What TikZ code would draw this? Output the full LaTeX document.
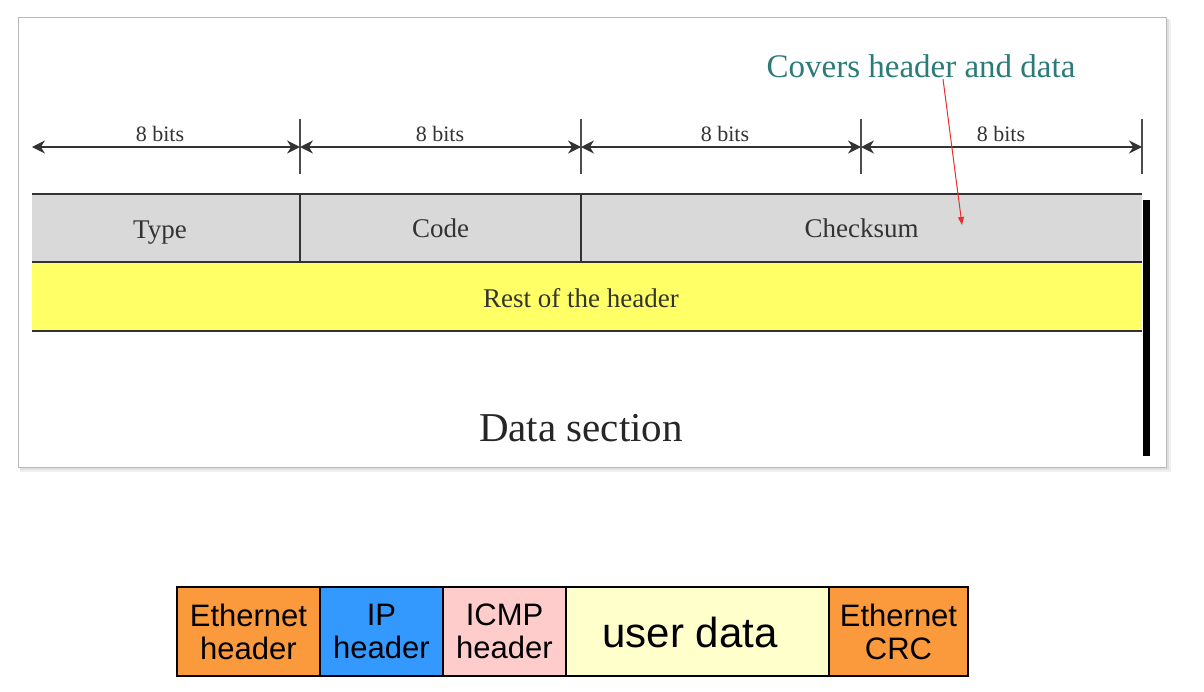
\documentclass[tikz,border=0pt]{standalone}
\usepackage{fontspec}
\setmainfont{Liberation Serif}
\newfontfamily\arialf{Liberation Sans}
\usetikzlibrary{arrows.meta}
\definecolor{hdrgray}{HTML}{D9D9D9}
\definecolor{hdryellow}{HTML}{FFFF66}
\definecolor{tealtxt}{HTML}{2B7B78}
\definecolor{ethorange}{HTML}{FB9A3C}
\definecolor{ipblue}{HTML}{3399FF}
\definecolor{icmppink}{HTML}{FFCCCC}
\definecolor{udyellow}{HTML}{FFFFCC}
\definecolor{redarrow}{HTML}{E8302A}
\definecolor{txtgray}{HTML}{333333}
\tikzset{
  field/.style={inner sep=0pt, text=txtgray, font=\fontsize{27}{30}\selectfont},
  rule/.style={black!80, line width=1.5pt},
  dimline/.style={black!80, line width=1.4pt, {Stealth[length=13pt,width=13pt]}-{Stealth[length=13pt,width=13pt]}},
  tickline/.style={black!70, line width=1.2pt},
  bitlabel/.style={text=txtgray, font=\fontsize{22}{24}\selectfont, inner sep=0pt},
  pktbox/.style={draw=black, line width=2.5pt, inner sep=0pt, minimum height=89pt,
    align=center, font=\arialf\fontsize{31}{33}\selectfont},
}
\begin{document}
\begin{tikzpicture}[x=1pt,y=-1pt]
\useasboundingbox (0,0) rectangle (1204,691);
\fill[white] (0,0) rectangle (1204,691);
% frame with shadow
\fill[black!6] (20,20) rectangle (1171,472);
\fill[black!12] (20,19) rectangle (1169,470);
\draw[black!28, line width=1pt, fill=white] (18,17) rectangle (1166,467);

% dimension ticks
\foreach \n/\x in {a/300,b/581,c/861,d/1142}{
  \coordinate (\n top) at (\x,119);
  \coordinate (\n bot) at (\x,174);
  \draw[tickline] (\n top) -- (\n bot);
}
\coordinate (p0) at (32,147);
\coordinate (p1) at (300,147);
\coordinate (p2) at (581,147);
\coordinate (p3) at (861,147);
\coordinate (p4) at (1142,147);
\draw[dimline] (p0) -- (p1);
\draw[dimline] (p1) -- (p2);
\draw[dimline] (p2) -- (p3);
\draw[dimline] (p3) -- (p4);
\node[bitlabel] (b1) at (160,134) {8 bits};
\node[bitlabel] (b2) at (440,134) {8 bits};
\node[bitlabel] (b3) at (725,134) {8 bits};
\node[bitlabel] (b4) at (1001,134) {8 bits};

% header fields
\node[field, fill=hdrgray, minimum width=268pt, minimum height=68pt] (type) at (166,228) {};
\node[field, fill=hdrgray, minimum width=281pt, minimum height=68pt] (code) at (440.5,228) {Code};
\node[field, fill=hdrgray, minimum width=561pt, minimum height=68pt] (cks) at (861.5,228) {Checksum};
\node[field, fill=hdryellow, minimum width=1110pt, minimum height=69pt] (rest) at (587,296.5) {};
\draw[rule] (type.north west) -- (cks.north east);
\draw[rule] (type.south west) -- (cks.south east);
\draw[rule] (rest.south west) -- (rest.south east);
\draw[rule] (type.north east) -- (type.south east);
\draw[rule] (code.north east) -- (code.south east);
\node[field, anchor=base] (typet) at (160,238) {Type};
\node[field] (restt) at (581,298) {Rest of the header};
\fill[black] (1143,200) rectangle (1150,456);

\node[text=black!85, font=\fontsize{41}{44}\selectfont] (data) at (581,428) {Data section};

% covers note
\node[text=tealtxt, font=\fontsize{33}{36}\selectfont] (cov) at (921,66) {Covers header and data};
\coordinate (covs) at (943,79);
\coordinate (cove) at (962,225);
\draw[redarrow, line width=1pt, -{Triangle[length=8pt,width=6pt]}] (covs) -- (cove);

% packet layout
\node[pktbox, fill=ethorange, minimum width=143pt] (eth) at (248.5,631.5) {Ethernet\\header};
\node[pktbox, fill=ipblue, minimum width=123pt] (ip) at (381.5,631.5) {IP\\header};
\node[pktbox, fill=icmppink, minimum width=123pt] (icmp) at (504.5,631.5) {ICMP\\header};
\node[pktbox, fill=udyellow, minimum width=263pt] (ud) at (697.5,631.5) {};
\node[font=\arialf\fontsize{42}{44}\selectfont, inner sep=0pt] (udt) at (690,632) {user data};
\node[pktbox, fill=ethorange, minimum width=139pt] (crc) at (898.5,631.5) {Ethernet\\CRC};
\end{tikzpicture}
\end{document}
